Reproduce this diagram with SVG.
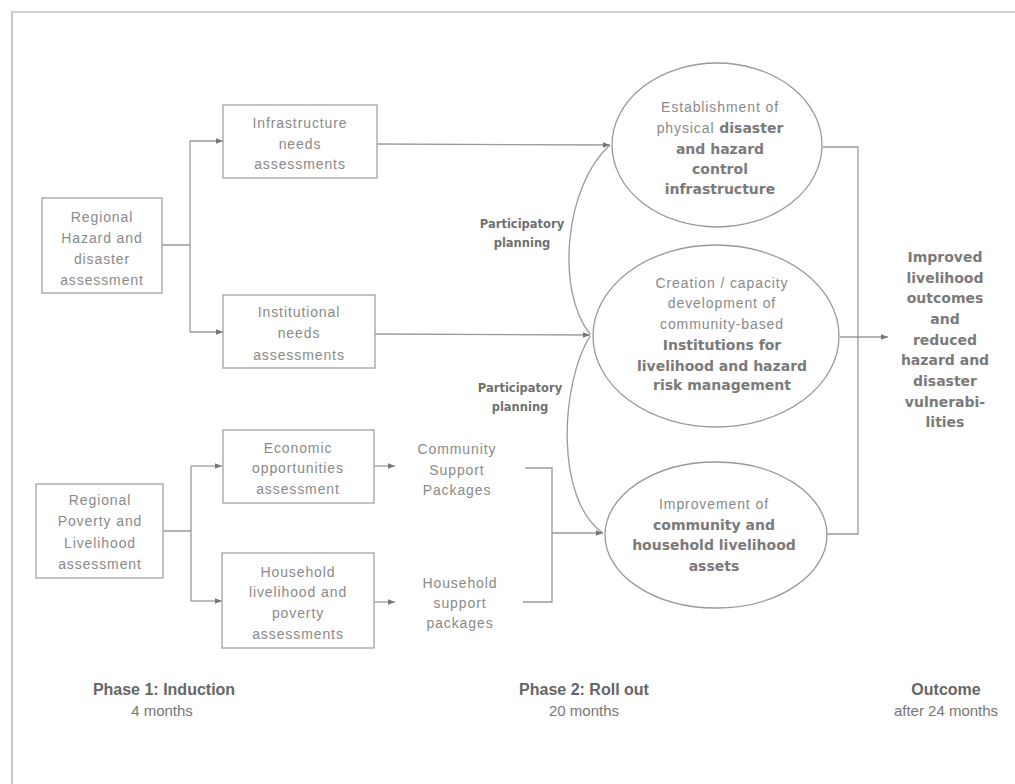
<svg xmlns="http://www.w3.org/2000/svg" width="1015" height="784" viewBox="0 0 1015 784">
<style>
.box{fill:#fff;stroke:#a8a8a8;stroke-width:1.4}
.ell{fill:#fff;stroke:#999;stroke-width:1.3}
.ln{fill:none;stroke:#9a9a9a;stroke-width:1.3}
.t{font-family:"Liberation Sans",Arial,sans-serif;font-size:14px;letter-spacing:0.9px;fill:#8a8a8a;text-anchor:middle}
.b{font-family:"DejaVu Sans",Verdana,sans-serif;font-size:14px;font-weight:bold;fill:#7a7a7a}
.bb{font-family:"DejaVu Sans",Verdana,sans-serif;font-size:14px;font-weight:bold;fill:#7a7a7a;text-anchor:middle}
.pp{font-family:"DejaVu Sans",Verdana,sans-serif;font-size:11.5px;font-weight:bold;fill:#707070;text-anchor:middle}
.ph{font-family:"Liberation Sans",Arial,sans-serif;font-size:16px;font-weight:bold;fill:#666;text-anchor:middle}
.pm{font-family:"Liberation Sans",Arial,sans-serif;font-size:15px;fill:#777;text-anchor:middle}
</style>
<defs>
<marker id="ah" viewBox="0 0 10 10" refX="10" refY="5" markerWidth="7" markerHeight="7" orient="auto" markerUnits="userSpaceOnUse">
<path d="M0,1 L10,5 L0,9 z" fill="#777"/>
</marker>
</defs>
<rect width="1015" height="784" fill="#fff"/>
<g id="frame">
<line x1="12" y1="12" x2="1015" y2="12" stroke="#d0d0d0" stroke-width="2"/>
<line x1="12" y1="11" x2="12" y2="784" stroke="#c8c8c8" stroke-width="2"/>
</g>
<g id="connectors">
<path class="ln" d="M162,245 H190 M190,141 V332"/>
<path class="ln" d="M190,141 H223" marker-end="url(#ah)"/>
<path class="ln" d="M190,332 H223" marker-end="url(#ah)"/>
<path class="ln" d="M163,531 H191 M191,466 V601"/>
<path class="ln" d="M191,466 H222" marker-end="url(#ah)"/>
<path class="ln" d="M191,601 H222" marker-end="url(#ah)"/>
<path class="ln" d="M374,466 H395" marker-end="url(#ah)"/>
<path class="ln" d="M374,602 H395" marker-end="url(#ah)"/>
<path class="ln" d="M525,468 H552 V602 H523"/>
<path class="ln" d="M552,533 H603" marker-end="url(#ah)"/>
<path class="ln" d="M377,144 L610,145" marker-end="url(#ah)"/>
<path class="ln" d="M375,334 L590,335" marker-end="url(#ah)"/>
<path class="ln" d="M610,145 C565,185 555,290 590,334"/>
<path class="ln" d="M590,336 C560,385 555,500 603,533"/>
<path class="ln" d="M823,147 H858 V534 H827"/>
<path class="ln" d="M840,337 H888" marker-end="url(#ah)"/>
</g>
<g id="hazard">
<rect class="box" x="42" y="198" width="120" height="95"/>
<text class="t" x="102" y="222">Regional</text>
<text class="t" x="102" y="243">Hazard and</text>
<text class="t" x="102" y="264">disaster</text>
<text class="t" x="102" y="285">assessment</text>
</g>
<g id="infra">
<rect class="box" x="223" y="105" width="154" height="73"/>
<text class="t" x="300" y="128">Infrastructure</text>
<text class="t" x="300" y="149">needs</text>
<text class="t" x="300" y="169">assessments</text>
</g>
<g id="inst">
<rect class="box" x="223" y="295" width="152" height="73"/>
<text class="t" x="299" y="317">Institutional</text>
<text class="t" x="299" y="338">needs</text>
<text class="t" x="299" y="360">assessments</text>
</g>
<g id="poverty">
<rect class="box" x="36" y="484" width="127" height="94"/>
<text class="t" x="100" y="505">Regional</text>
<text class="t" x="100" y="526">Poverty and</text>
<text class="t" x="100" y="548">Livelihood</text>
<text class="t" x="100" y="569">assessment</text>
</g>
<g id="econ">
<rect class="box" x="223" y="430" width="151" height="73"/>
<text class="t" x="298" y="453">Economic</text>
<text class="t" x="298" y="473">opportunities</text>
<text class="t" x="298" y="494">assessment</text>
</g>
<g id="household">
<rect class="box" x="222" y="553" width="152" height="95"/>
<text class="t" x="298" y="577">Household</text>
<text class="t" x="298" y="597">livelihood and</text>
<text class="t" x="298" y="618">poverty</text>
<text class="t" x="298" y="639">assessments</text>
</g>
<g id="community-packages">
<text class="t" x="457" y="454">Community</text>
<text class="t" x="457" y="475">Support</text>
<text class="t" x="457" y="495">Packages</text>
</g>
<g id="household-packages">
<text class="t" x="460" y="588">Household</text>
<text class="t" x="460" y="608">support</text>
<text class="t" x="460" y="628">packages</text>
</g>
<g id="ellipse-infra">
<ellipse class="ell" cx="717" cy="145" rx="105" ry="82"/>
<text class="t" x="720" y="112">Establishment of</text>
<text class="t" x="720" y="133">physical <tspan class="b" letter-spacing="0">disaster</tspan></text>
<text class="bb" x="720" y="154">and hazard</text>
<text class="bb" x="720" y="174">control</text>
<text class="bb" x="720" y="194">infrastructure</text>
</g>
<g id="ellipse-inst">
<ellipse class="ell" cx="716" cy="336" rx="123" ry="91"/>
<text class="t" x="722" y="288">Creation / capacity</text>
<text class="t" x="722" y="308">development of</text>
<text class="t" x="722" y="329">community-based</text>
<text class="bb" x="722" y="350">Institutions for</text>
<text class="bb" x="722" y="371">livelihood and hazard</text>
<text class="bb" x="722" y="390">risk management</text>
</g>
<g id="ellipse-assets">
<ellipse class="ell" cx="716" cy="535" rx="111" ry="73"/>
<text class="t" x="714" y="509">Improvement of</text>
<text class="bb" x="714" y="530">community and</text>
<text class="bb" x="714" y="550">household livelihood</text>
<text class="bb" x="714" y="571">assets</text>
</g>
<g id="planning-labels">
<text class="pp" x="522" y="228">Participatory</text>
<text class="pp" x="522" y="247">planning</text>
<text class="pp" x="520" y="392">Participatory</text>
<text class="pp" x="520" y="411">planning</text>
</g>
<g id="outcome">
<text class="bb" x="945" y="262">Improved</text>
<text class="bb" x="945" y="283">livelihood</text>
<text class="bb" x="945" y="303">outcomes</text>
<text class="bb" x="945" y="324">and</text>
<text class="bb" x="945" y="345">reduced</text>
<text class="bb" x="945" y="365">hazard and</text>
<text class="bb" x="945" y="386">disaster</text>
<text class="bb" x="945" y="407">vulnerabi-</text>
<text class="bb" x="945" y="427">lities</text>
</g>
<g id="phases">
<text class="ph" x="164" y="695">Phase 1: Induction</text>
<text class="pm" x="162" y="716">4 months</text>
<text class="ph" x="584" y="695">Phase 2: Roll out</text>
<text class="pm" x="584" y="716">20 months</text>
<text class="ph" x="946" y="695">Outcome</text>
<text class="pm" x="946" y="716">after 24 months</text>
</g>
</svg>
